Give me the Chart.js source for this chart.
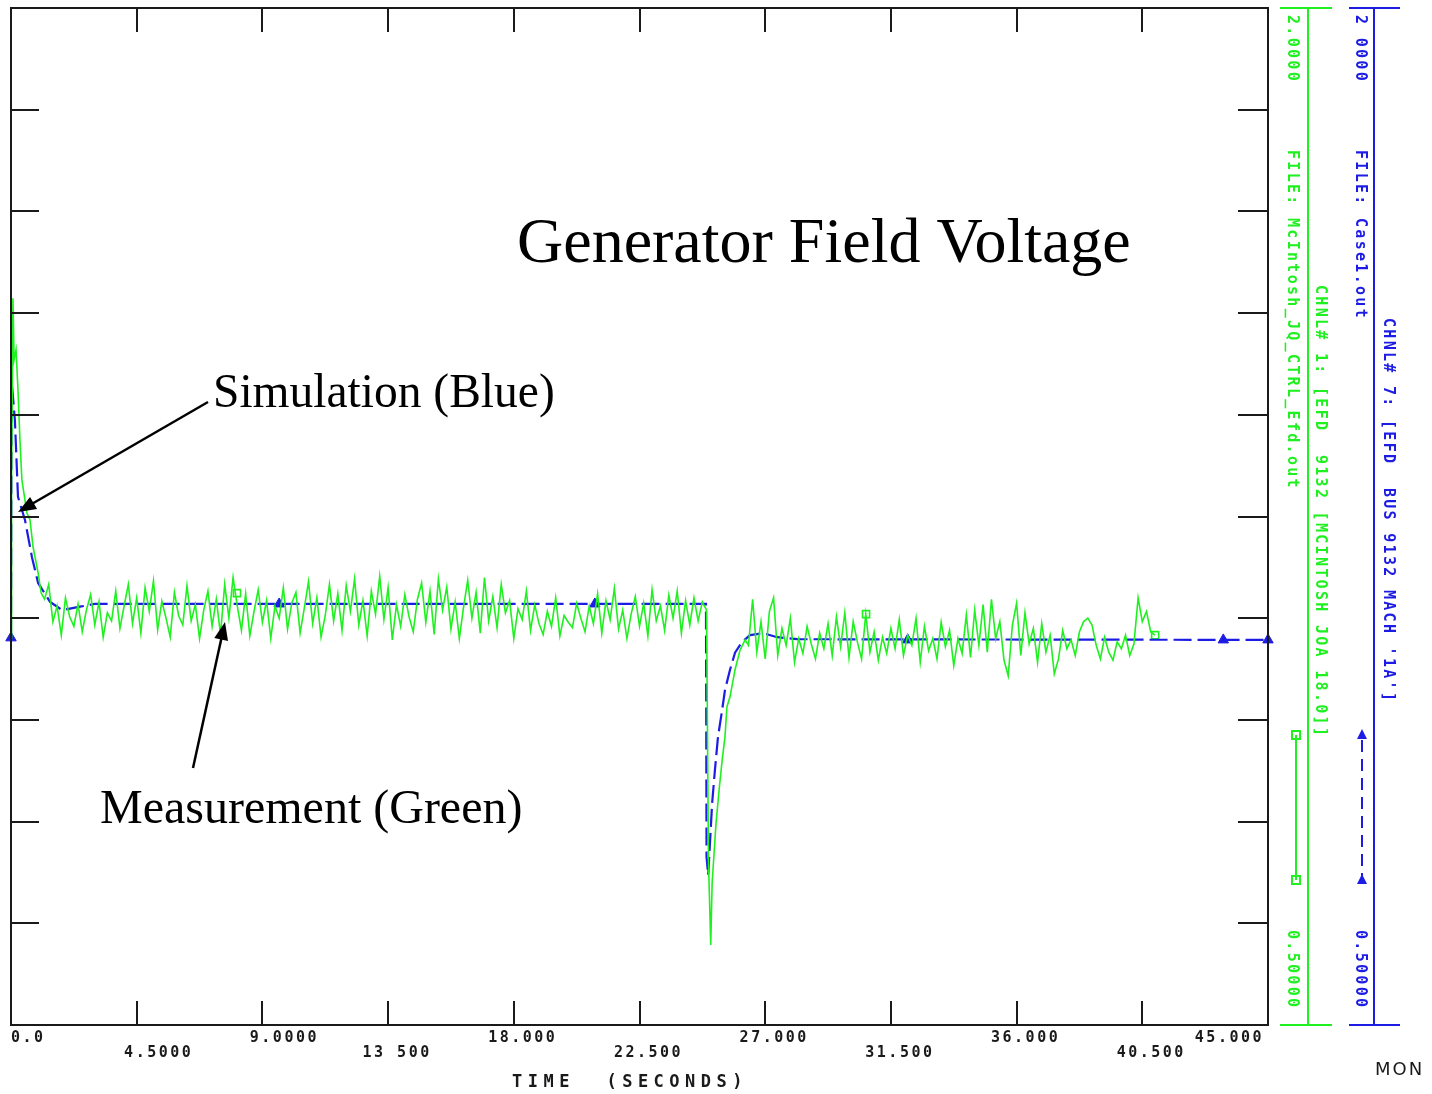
<!DOCTYPE html>
<html lang="en">
<head>
    <meta charset="UTF-8">
    <title>Generator Field Voltage</title>
    <script src="https://cdn.jsdelivr.net/npm/chart.js@4.4.1/dist/chart.umd.min.js"></script>
    <style>
        body {
            margin: 0;
            background: #fff;
            overflow: hidden;
        }
        #wrap {
            width: 1432px;
            height: 1094px;
        }
    </style>
</head>
<body>
    <div id="wrap">
        <canvas id="efdChart" width="1432" height="1094"></canvas>
    </div>

    <script>
        // axis ticks
        const xTicks = [0, 4.5, 9, 13.5, 18, 22.5, 27, 31.5, 36, 40.5, 45];
        const xTickLabels = ['0.0', '4.5000', '9.0000', '13 500', '18.000', '22.500', '27.000', '31.500', '36.000', '40.500', '45.000'];
        const yTicks = [0.5, 0.65, 0.8, 0.95, 1.1, 1.25, 1.4, 1.55, 1.7, 1.85, 2.0];

        // simulation (blue), Case1.out
        const blueT = [0, 0.02, 0.14, 0.25, 0.5, 0.75, 0.97, 1.4, 1.83, 2.47, 3.0,
            24.88, 24.90, 24.96, 25.10, 25.20, 25.31, 25.46, 25.56, 25.74, 25.92, 26.17, 26.46, 26.92, 27.43, 28.14, 45];
        const blueV = [1.071, 1.451, 1.392, 1.279, 1.245, 1.190, 1.152, 1.124, 1.112, 1.117, 1.121,
            1.121, 0.748, 0.721, 0.827, 0.876, 0.925, 0.965, 0.994, 1.024, 1.049, 1.065, 1.075, 1.078, 1.072, 1.069, 1.068];
        const blueMarkT = [0, 9.6, 20.9, 32.1, 43.4, 45];
        const blueMarkV = [1.071, 1.121, 1.121, 1.068, 1.068, 1.068];

        // measurement (green), McIntosh_JQ_CTRL_Efd.out
        const greenStartT = [0, 0.02, 0.07, 0.11, 0.18, 0.25, 0.32, 0.39, 0.57, 0.68, 0.79, 0.97, 1.08];
        const greenStartV = [1.071, 1.30, 1.572, 1.481, 1.496, 1.437, 1.363, 1.304, 1.255, 1.245, 1.205, 1.167, 1.137];

        // 1.20 s .. 24.75 s, every 0.15 s
        const greenNoise1Start = 1.2;
        const greenNoise1 = [
            1.128, 1.150, 1.095, 1.118, 1.075, 1.130, 1.102, 1.088, 1.121, 1.080,
            1.112, 1.135, 1.090, 1.124, 1.072, 1.108, 1.096, 1.140, 1.085, 1.118,
            1.150, 1.092, 1.130, 1.078, 1.145, 1.110, 1.155, 1.083, 1.125, 1.100,
            1.072, 1.138, 1.104, 1.090, 1.148, 1.096, 1.120, 1.070, 1.112, 1.140,
            1.088, 1.128, 1.076, 1.150, 1.100, 1.160, 1.118, 1.082, 1.136, 1.074,
            1.110, 1.142, 1.094, 1.126, 1.070, 1.118, 1.100, 1.145, 1.084, 1.122,
            1.138, 1.078, 1.115, 1.154, 1.092, 1.130, 1.072, 1.104, 1.150, 1.096,
            1.136, 1.082, 1.148, 1.110, 1.158, 1.090, 1.126, 1.074, 1.140, 1.106,
            1.162, 1.098, 1.145, 1.068, 1.120, 1.088, 1.135, 1.102, 1.080, 1.128,
            1.152, 1.094, 1.140, 1.076, 1.158, 1.112, 1.146, 1.084, 1.124, 1.070,
            1.116, 1.156, 1.100, 1.138, 1.078, 1.160, 1.096, 1.132, 1.086, 1.150,
            1.108, 1.126, 1.070, 1.114, 1.098, 1.140, 1.082, 1.120, 1.092, 1.076,
            1.110, 1.088, 1.130, 1.074, 1.104, 1.094, 1.086, 1.122, 1.100, 1.080,
            1.118, 1.092, 1.136, 1.078, 1.126, 1.098, 1.144, 1.084, 1.112, 1.070,
            1.106, 1.132, 1.088, 1.122, 1.074, 1.142, 1.096, 1.118, 1.082, 1.134,
            1.100, 1.140, 1.078, 1.126, 1.090, 1.130, 1.096, 1.124
        ];

        const greenDipT = [24.82, 24.90, 24.97, 25.05, 25.10, 25.24, 25.35, 25.46, 25.56, 25.63, 25.74, 25.92, 26.10, 26.28];
        const greenDipV = [1.118, 1.112, 0.740, 0.618, 0.709, 0.798, 0.847, 0.891, 0.925, 0.969, 0.984, 1.024, 1.053, 1.068];

        // 26.40 s .. 40.95 s, every 0.15 s
        const greenNoise2Start = 26.4;
        const greenNoise2 = [
            1.060, 1.128, 1.050, 1.095, 1.040, 1.110, 1.130, 1.045, 1.085, 1.060,
            1.100, 1.035, 1.070, 1.048, 1.088, 1.062, 1.040, 1.078, 1.055, 1.092,
            1.045, 1.102, 1.058, 1.108, 1.042, 1.095, 1.065, 1.040, 1.106, 1.050,
            1.080, 1.038, 1.072, 1.048, 1.085, 1.055, 1.098, 1.045, 1.075, 1.060,
            1.100, 1.035, 1.088, 1.052, 1.070, 1.040, 1.094, 1.058, 1.082, 1.030,
            1.070, 1.048, 1.105, 1.042, 1.112, 1.060, 1.120, 1.050, 1.128, 1.070,
            1.095, 1.038, 1.015, 1.090, 1.122, 1.045, 1.108, 1.062, 1.085, 1.035,
            1.092, 1.050, 1.075, 1.018, 1.040, 1.082, 1.055, 1.068, 1.045, 1.080,
            1.095, 1.100, 1.090, 1.060, 1.040, 1.072, 1.050, 1.038, 1.065, 1.055,
            1.075, 1.045, 1.062, 1.130, 1.095, 1.110, 1.080, 1.075
        ];
        const sampleStep = 0.15;

        const greenMarkT = [8.09, 30.61, 40.96];
        const greenMarkV = [1.137, 1.106, 1.075];

        const BLUE = '#1c1ce4';
        const GREEN = '#1ff01f';
        const INK = '#1a1a1a';
        const MONO = '"DejaVu Sans Mono", monospace';
        const SERIF = '"Liberation Serif", "Times New Roman", serif';

        function pts(ts, vs) {
            return ts.map((t, i) => ({ x: t, y: vs[i] }));
        }
        function sampled(start, vs) {
            return vs.map((v, i) => ({ x: +(start + i * sampleStep).toFixed(2), y: v }));
        }

        const greenData = [].concat(
            pts(greenStartT, greenStartV),
            sampled(greenNoise1Start, greenNoise1),
            pts(greenDipT, greenDipV),
            sampled(greenNoise2Start, greenNoise2)
        );

        function vtext(ctx, s, x, y, color) {
            ctx.save();
            ctx.translate(x, y);
            ctx.rotate(Math.PI / 2);
            ctx.fillStyle = color;
            ctx.textAlign = 'left';
            ctx.textBaseline = 'middle';
            ctx.fillText(s, 0, 0);
            ctx.restore();
        }

        function arrow(ctx, x1, y1, x2, y2) {
            const a = Math.atan2(y2 - y1, x2 - x1);
            const len = 18, w = 7;
            ctx.beginPath();
            ctx.moveTo(x1, y1);
            ctx.lineTo(x2 - Math.cos(a) * len * 0.8, y2 - Math.sin(a) * len * 0.8);
            ctx.stroke();
            ctx.beginPath();
            ctx.moveTo(x2, y2);
            ctx.lineTo(x2 - Math.cos(a) * len - Math.sin(a) * w, y2 - Math.sin(a) * len + Math.cos(a) * w);
            ctx.lineTo(x2 - Math.cos(a) * len + Math.sin(a) * w, y2 - Math.sin(a) * len - Math.cos(a) * w);
            ctx.closePath();
            ctx.fill();
        }

        // frame, inward ticks, labels and side axes
        const plotDecor = {
            id: 'plotDecor',
            afterDatasetsDraw(chart) {
                const ctx = chart.ctx;
                const { left, right, top, bottom } = chart.chartArea;
                const xs = chart.scales.x, ys = chart.scales.y;

                ctx.save();
                ctx.strokeStyle = INK;
                ctx.lineWidth = 2;
                ctx.strokeRect(left, top, right - left, bottom - top);

                ctx.beginPath();
                xTicks.forEach(t => {
                    const px = Math.round(xs.getPixelForValue(t));
                    ctx.moveTo(px, top); ctx.lineTo(px, top + 24);
                    ctx.moveTo(px, bottom); ctx.lineTo(px, bottom - 24);
                });
                yTicks.forEach(v => {
                    const py = Math.round(ys.getPixelForValue(v));
                    ctx.moveTo(left, py); ctx.lineTo(left + 28, py);
                    ctx.moveTo(right, py); ctx.lineTo(right - 30, py);
                });
                ctx.stroke();

                // x tick labels, staggered on two rows
                ctx.font = 'bold 15px ' + MONO;
                ctx.letterSpacing = '2.5px';
                ctx.fillStyle = INK;
                ctx.textBaseline = 'middle';
                xTickLabels.forEach((s, i) => {
                    const px = xs.getPixelForValue(xTicks[i]);
                    const py = i % 2 === 0 ? bottom + 13 : bottom + 28;
                    if (i === 0) {
                        ctx.textAlign = 'left';
                        ctx.fillText(s, px, py);
                    } else if (i === xTicks.length - 1) {
                        ctx.textAlign = 'right';
                        ctx.fillText(s, px - 4, py);
                    } else {
                        ctx.textAlign = 'center';
                        ctx.fillText(s, px + (i < 3 ? 22 : 9), py);
                    }
                });

                ctx.font = 'bold 17px ' + MONO;
                ctx.letterSpacing = '5.5px';
                ctx.textAlign = 'left';
                ctx.fillText('TIME  (SECONDS)', 512, 1083);

                ctx.font = '18px "DejaVu Sans", sans-serif';
                ctx.letterSpacing = '2px';
                ctx.fillText('MON', 1375, 1070);

                // green channel axis
                ctx.lineWidth = 2;
                ctx.strokeStyle = GREEN;
                ctx.beginPath();
                ctx.moveTo(1308, top); ctx.lineTo(1308, bottom);
                ctx.moveTo(1280, top); ctx.lineTo(1332, top);
                ctx.moveTo(1280, bottom); ctx.lineTo(1332, bottom);
                ctx.moveTo(1296, 735); ctx.lineTo(1296, 880);
                ctx.stroke();
                ctx.strokeRect(1292, 731, 8, 8);
                ctx.strokeRect(1292, 876, 8, 8);

                ctx.font = 'bold 15px ' + MONO;
                ctx.letterSpacing = '2.3px';
                vtext(ctx, '2.0000', 1292, 15, GREEN);
                vtext(ctx, 'FILE: McIntosh_JQ_CTRL_Efd.out', 1292, 150, GREEN);
                vtext(ctx, 'CHNL# 1: [EFD  9132 [MCINTOSH JOA 18.0]]', 1320, 285, GREEN);
                vtext(ctx, '0.50000', 1292, 930, GREEN);

                // blue channel axis
                ctx.strokeStyle = BLUE;
                ctx.fillStyle = BLUE;
                ctx.beginPath();
                ctx.moveTo(1374, top); ctx.lineTo(1374, bottom);
                ctx.moveTo(1349, top); ctx.lineTo(1400, top);
                ctx.moveTo(1349, bottom); ctx.lineTo(1400, bottom);
                ctx.stroke();
                ctx.setLineDash([12, 7]);
                ctx.beginPath();
                ctx.moveTo(1362, 740); ctx.lineTo(1362, 878);
                ctx.stroke();
                ctx.setLineDash([]);
                ctx.beginPath();
                ctx.moveTo(1362, 729); ctx.lineTo(1357, 739); ctx.lineTo(1367, 739);
                ctx.closePath(); ctx.fill();
                ctx.beginPath();
                ctx.moveTo(1362, 874); ctx.lineTo(1357, 884); ctx.lineTo(1367, 884);
                ctx.closePath(); ctx.fill();

                vtext(ctx, '2 0000', 1360, 15, BLUE);
                vtext(ctx, 'FILE: Case1.out', 1360, 150, BLUE);
                vtext(ctx, "CHNL# 7: [EFD  BUS 9132 MACH '1A']", 1388, 318, BLUE);
                vtext(ctx, '0.50000', 1360, 930, BLUE);

                // annotations
                ctx.letterSpacing = '0px';
                ctx.fillStyle = '#000';
                ctx.textAlign = 'left';
                ctx.textBaseline = 'alphabetic';
                ctx.font = '64px ' + SERIF;
                ctx.fillText('Generator Field Voltage', 517, 262);
                ctx.font = '47.5px ' + SERIF;
                ctx.fillText('Simulation (Blue)', 213, 407);
                ctx.font = '48px ' + SERIF;
                ctx.fillText('Measurement (Green)', 100, 823);

                ctx.strokeStyle = '#000';
                ctx.lineWidth = 2.5;
                arrow(ctx, 208, 402, 18, 512);
                arrow(ctx, 193, 768, 225, 622);
                ctx.restore();
            }
        };

        const ctx = document.getElementById('efdChart').getContext('2d');
        new Chart(ctx, {
            type: 'line',
            data: {
                datasets: [{
                    label: 'Measurement',
                    data: greenData,
                    borderColor: GREEN,
                    borderWidth: 1.6,
                    pointRadius: 0,
                    tension: 0,
                    fill: false
                }, {
                    label: 'Simulation',
                    data: pts(blueT, blueV),
                    borderColor: BLUE,
                    borderWidth: 2.2,
                    borderDash: [18, 6],
                    pointRadius: 0,
                    tension: 0,
                    fill: false
                }, {
                    label: 'Simulation marks',
                    data: pts(blueMarkT, blueMarkV),
                    showLine: false,
                    pointStyle: 'triangle',
                    pointRadius: 6,
                    backgroundColor: BLUE,
                    borderColor: BLUE,
                    clip: false
                }, {
                    label: 'Measurement marks',
                    data: pts(greenMarkT, greenMarkV),
                    showLine: false,
                    pointStyle: 'rect',
                    pointRadius: 5,
                    backgroundColor: 'rgba(0,0,0,0)',
                    borderColor: GREEN,
                    borderWidth: 1.6,
                    clip: false
                }]
            },
            options: {
                responsive: false,
                animation: false,
                layout: {
                    padding: { left: 11, top: 8, right: 164, bottom: 69 }
                },
                plugins: {
                    legend: { display: false },
                    tooltip: { enabled: false }
                },
                scales: {
                    x: { type: 'linear', min: 0, max: 45, display: false },
                    y: { type: 'linear', min: 0.5, max: 2.0, display: false }
                }
            },
            plugins: [plotDecor]
        });
    </script>
</body>
</html>
